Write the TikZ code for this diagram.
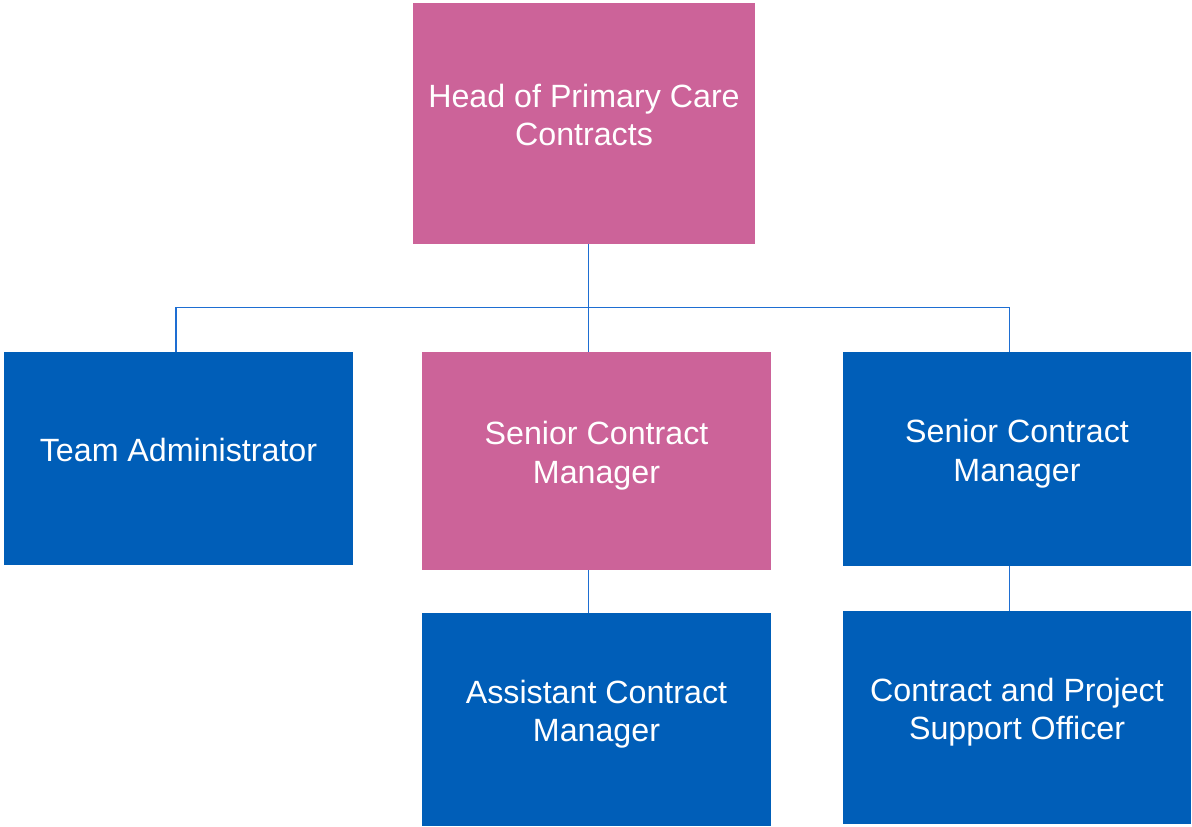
\documentclass[tikz,border=0pt]{standalone}
\usepackage{fontspec}
\setmainfont{Liberation Sans}
\usepackage{tikz}
\usetikzlibrary{positioning}

\definecolor{nhspink}{RGB}{204,99,153}
\definecolor{nhsblue}{RGB}{0,94,184}
\definecolor{linkblue}{RGB}{30,110,210}

\tikzset{
  post/.style={rectangle,inner sep=0pt,text=white,align=center,
    text depth=17pt,
    font=\fontsize{32.2}{38.4}\selectfont},
  pinkpost/.style={post,fill=nhspink},
  bluepost/.style={post,fill=nhsblue},
  link/.style={draw=linkblue,line width=1.5pt}
}

\begin{document}
\begin{tikzpicture}[x=1pt,y=1pt]
\useasboundingbox (0,0) rectangle (1192,-827);

% posts
\node[pinkpost,minimum width=342pt,minimum height=241pt] (head) at (584,-123.5) {Head of Primary Care\\Contracts};
\node[bluepost,minimum width=349pt,minimum height=213pt] (admin) at (178.5,-458.5) {Team Administrator};
\node[pinkpost,minimum width=349pt,minimum height=218pt] (seniorA) at (596.5,-461) {Senior Contract\\Manager};
\node[bluepost,minimum width=348pt,minimum height=214pt] (seniorB) at (1017,-459) {Senior Contract\\Manager};
\node[bluepost,minimum width=349pt,minimum height=213pt] (assistant) at (596.5,-719.5) {Assistant Contract\\Manager};
\node[bluepost,minimum width=348pt,minimum height=213pt] (support) at (1017,-717.5) {Contract and Project\\Support Officer};

% reporting lines
\coordinate (trunk) at (588.7,-307.7);
\coordinate (busL) at (176,-307.7);
\coordinate (busR) at (1009.5,-307.7);
\draw[link] (trunk |- head.south) -- (trunk |- seniorA.north);
\draw[link] (busL |- admin.north) -- (busL) -- (busR) -- (busR |- seniorB.north);
\draw[link] (trunk |- seniorA.south) -- (trunk |- assistant.north);
\draw[link] (busR |- seniorB.south) -- (busR |- support.north);
\end{tikzpicture}
\end{document}
